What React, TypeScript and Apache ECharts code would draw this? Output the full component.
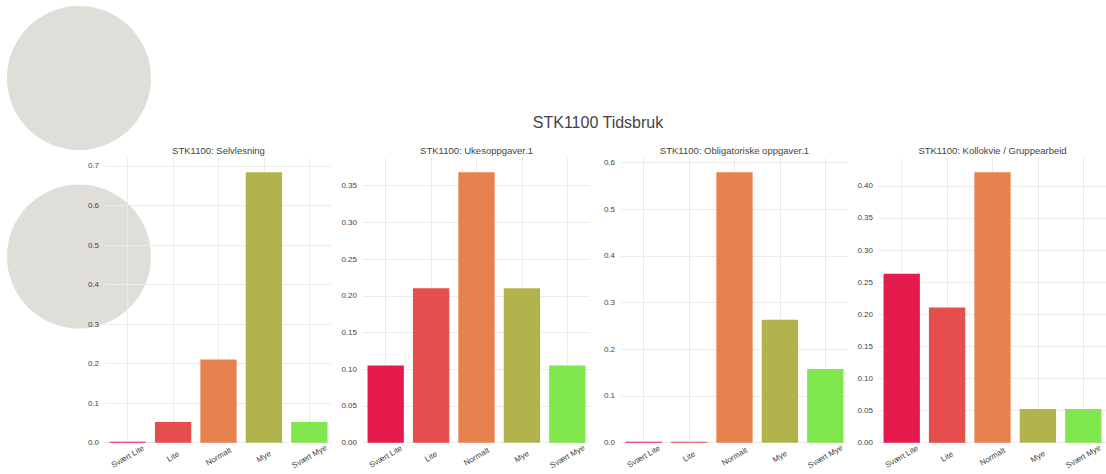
import React, { useEffect, useRef } from "react";
import * as echarts from "echarts";

const categories = ["Svært Lite", "Lite", "Normalt", "Mye", "Svært Mye"];
const barColors = ["#E61B4D", "#E64E4E", "#E6824E", "#B3B34D", "#80E64E"];
const mainTitle = "STK1100 Tidsbruk";
const panelTitles = [
  "STK1100: Selvlesning",
  "STK1100: Ukesoppgaver.1",
  "STK1100: Obligatoriske oppgaver.1",
  "STK1100: Kollokvie / Gruppearbeid",
];
const selvlesning = [0, 0.0526, 0.2105, 0.6842, 0.0526];
const ukesoppgaver = [0.1053, 0.2105, 0.3684, 0.2105, 0.1053];
const obligatoriske = [0, 0, 0.5789, 0.2632, 0.1579];
const kollokvie = [0.2632, 0.2105, 0.4211, 0.0526, 0.0526];
const panelValues = [selvlesning, ukesoppgaver, obligatoriske, kollokvie];
const yIntervals = [0.1, 0.05, 0.1, 0.05];
const yDecimals = [1, 2, 1, 2];

const FONT = "'Liberation Sans', Arial, Helvetica, sans-serif";
const GRID_LEFTS = [105, 363, 621, 879];
const GRID_W = 227;
const GRID_TOP = 158;
const GRID_H = 284.7;

export default function App() {
  const ref = useRef<HTMLDivElement>(null);
  useEffect(() => {
    if (!ref.current) return;
    const chart = echarts.init(ref.current, undefined, { renderer: "svg" });
    const grids = GRID_LEFTS.map((l) => ({ left: l, top: GRID_TOP, width: GRID_W, height: GRID_H }));
    const xAxes = panelValues.map((_, i) => ({
      type: "category",
      gridIndex: i,
      data: categories,
      axisLine: { show: false },
      axisTick: { show: false },
      axisLabel: {
        interval: 0,
        rotate: 30,
        align: "center",
        verticalAlign: "middle",
        margin: 14,
        fontSize: 8,
        color: "#444",
        fontFamily: FONT,
      },
      splitLine: { show: true, alignWithLabel: true, lineStyle: { color: "#ebebeb", width: 1 } },
    }));
    const yAxes = panelValues.map((vals, i) => ({
      type: "value",
      gridIndex: i,
      min: 0,
      max: Math.max(...vals) / 0.95,
      interval: yIntervals[i],
      axisLine: { show: false },
      axisTick: { show: false },
      axisLabel: {
        showMaxLabel: false,
        margin: 6,
        fontSize: 8,
        color: "#444",
        fontFamily: FONT,
        formatter: (v: number) => v.toFixed(yDecimals[i]),
      },
      splitLine: { show: true, showMaxLine: false, lineStyle: { color: "#ebebeb", width: 1 } },
    }));
    const series = panelValues.map((vals, i) => ({
      type: "bar",
      xAxisIndex: i,
      yAxisIndex: i,
      barCategoryGap: "20%",
      barMinHeight: 1,
      data: vals.map((v, j) => ({ value: v, itemStyle: { color: barColors[j] } })),
    }));
    const titles: any[] = [
      {
        text: mainTitle,
        left: 598,
        top: 114,
        textAlign: "center",
        padding: 0,
        textStyle: { fontSize: 16, fontWeight: "normal", color: "#444", fontFamily: FONT },
      },
      ...panelTitles.map((t, i) => ({
        text: t,
        left: GRID_LEFTS[i] + GRID_W / 2,
        top: 145,
        textAlign: "center",
        padding: 0,
        textStyle: { fontSize: 9.5, fontWeight: "normal", color: "#444", fontFamily: FONT },
      })),
    ];
    chart.setOption({
      animation: false,
      backgroundColor: "#ffffff",
      textStyle: { fontFamily: FONT },
      title: titles,
      grid: grids,
      xAxis: xAxes,
      yAxis: yAxes,
      series,
      graphic: [
        { type: "circle", z: -1, shape: { cx: 79, cy: 78, r: 72 }, style: { fill: "#dfded9" } },
        { type: "circle", z: -1, shape: { cx: 79, cy: 256.5, r: 72 }, style: { fill: "#dfded9" } },
      ],
    });
    return () => chart.dispose();
  }, []);
  return (
    <div
      ref={ref}
      style={{ position: "fixed", left: 0, top: 0, width: 1106, height: 474 }}
    />
  );
}
